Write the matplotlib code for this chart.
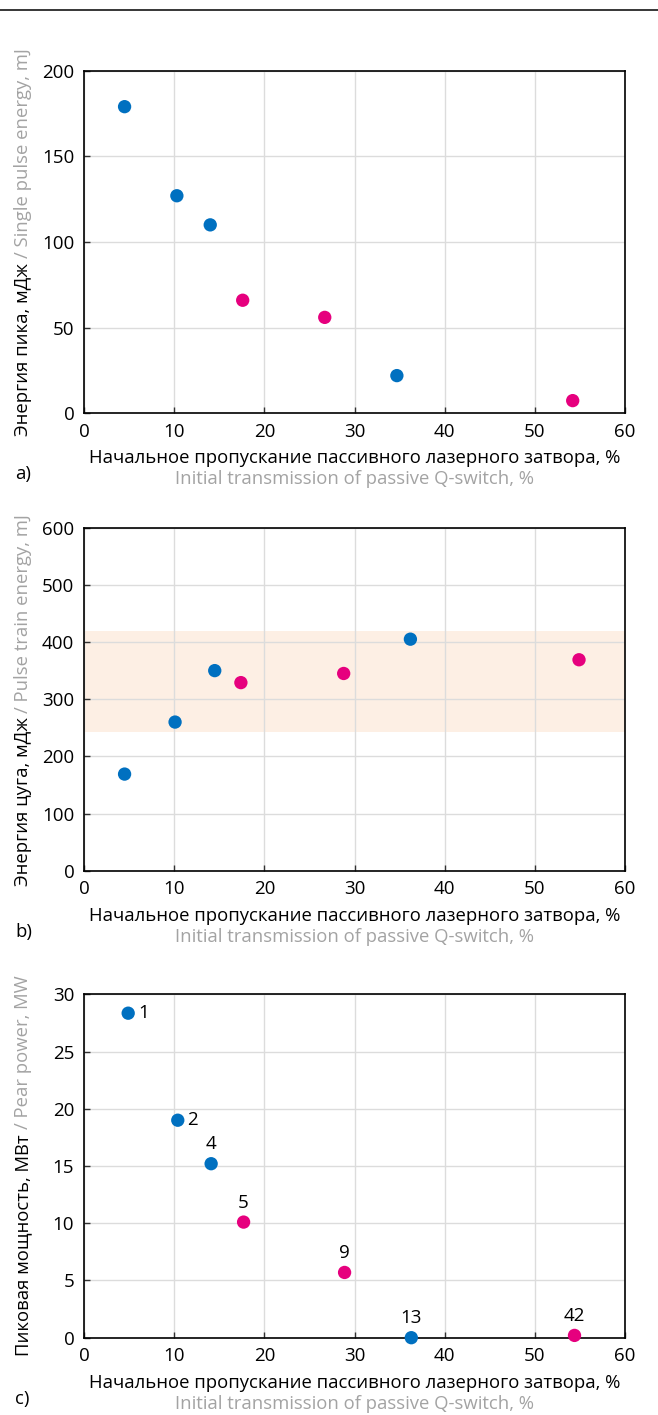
import matplotlib
matplotlib.use("Agg")
import matplotlib.pyplot as plt
from matplotlib.transforms import IdentityTransform

plt.rcParams['font.family'] = ['Open Sans', 'DejaVu Sans']

# panel a) single pulse energy
a_blue_x = [4.5, 10.3, 14.0, 34.7]
a_blue_y = [179, 127, 110, 22]
a_pink_x = [17.6, 26.7, 54.2]
a_pink_y = [66, 56, 7.4]

# panel b) pulse train energy
b_blue_x = [4.5, 10.1, 14.5, 36.2]
b_blue_y = [169, 260, 350, 405]
b_pink_x = [17.4, 28.8, 54.9]
b_pink_y = [329, 345, 369]
b_band = [243, 419]

# panel c) peak power, numbers = pulses in train
c_blue_x = [4.9, 10.4, 14.1, 36.3]
c_blue_y = [28.35, 19.0, 15.2, 0.0]
c_blue_lbl = ['1', '2', '4', '13']
c_pink_x = [17.7, 28.9, 54.4]
c_pink_y = [10.1, 5.7, 0.2]
c_pink_lbl = ['5', '9', '42']
side_labels = ['1', '2']   # these sit to the right of the point, others above

x_title = "Начальное пропускание пассивного лазерного затвора, %"
x_title_en = "Initial transmission of passive Q-switch, %"

BLUE = "#0070c0"
PINK = "#e6007e"
GREY = "#a3a3a3"
BAND = "#fdefe4"
FS = 13.3

W, H = 658, 1415
fig = plt.figure(figsize=(W / 100, H / 100), dpi=100)

# thin rule at the very top
fig.add_artist(plt.Line2D([0, 1], [1 - 9.5 / H, 1 - 9.5 / H], color="black", lw=1.1))


def make_axes(top, bottom, ymax, ystep):
    ax = fig.add_axes([84 / W, 1 - bottom / H, 541 / W, (bottom - top) / H])
    ax.set_xlim(0, 60)
    ax.set_ylim(0, ymax)
    ax.set_xticks(range(0, 61, 10))
    ax.set_yticks(range(0, ymax + 1, ystep))
    ax.grid(True, color="#dcdcdc", lw=1)
    ax.set_axisbelow(True)
    ax.tick_params(direction="in", length=4, width=1, color="#333333",
                   labelsize=13.5, pad=7)
    for s in ax.spines.values():
        s.set_linewidth(1.2)
    return ax


def dots(ax, x, y, color):
    ax.scatter(x, y, s=92, color=color, edgecolors="none", zorder=5, clip_on=False)


def bottom_titles(bottom, letter):
    fig.text(354.5 / W, 1 - (bottom + 45) / H, x_title, ha="center", va="center",
             fontsize=FS, color="black")
    fig.text(354.5 / W, 1 - (bottom + 66) / H, x_title_en, ha="center", va="center",
             fontsize=FS, color=GREY)
    fig.text(15 / W, 1 - (bottom + 61) / H, letter, ha="left", va="center",
             fontsize=FS, color="black")


ylabels = []


def two_tone_ylabel(yc, black, grey):
    ylabels.append((yc, black, grey))


# a)
ax1 = make_axes(70.7, 413.3, 200, 50)
dots(ax1, a_blue_x, a_blue_y, BLUE)
dots(ax1, a_pink_x, a_pink_y, PINK)
bottom_titles(413.3, "a)")
two_tone_ylabel(242, "Энергия пика, мДж", "/ Single pulse energy, mJ")

# b)
ax2 = make_axes(527.7, 870.7, 600, 100)
ax2.axhspan(b_band[0], b_band[1], color=BAND, lw=0, zorder=0)
dots(ax2, b_blue_x, b_blue_y, BLUE)
dots(ax2, b_pink_x, b_pink_y, PINK)
bottom_titles(870.7, "b)")
two_tone_ylabel(700, "Энергия цуга, мДж", "/ Pulse train energy, mJ")

# c)
ax3 = make_axes(994.3, 1337.7, 30, 5)
dots(ax3, c_blue_x, c_blue_y, BLUE)
dots(ax3, c_pink_x, c_pink_y, PINK)
for xs, ys, lbls in [(c_blue_x, c_blue_y, c_blue_lbl), (c_pink_x, c_pink_y, c_pink_lbl)]:
    for x, y, lb in zip(xs, ys, lbls):
        if lb in side_labels:
            ax3.annotate(lb, (x, y), xytext=(7, 0), textcoords="offset points",
                         ha="left", va="center", fontsize=13.5)
        else:
            ax3.annotate(lb, (x, y), xytext=(0, 14), textcoords="offset points",
                         ha="center", va="center", fontsize=13.5)
bottom_titles(1337.7, "c)")
two_tone_ylabel(1165.5, "Пиковая мощность, МВт", "/ Pear power, MW")

# rotated y titles: russian part black, english part grey, laid end to end
rend = fig.canvas.get_renderer()


def text_len(s):
    t = fig.text(0, 0, s, fontsize=FS)
    w = t.get_window_extent(rend).width
    t.remove()
    return w


gap = text_len("a a") - text_len("aa")
xc = 23
for yc, black, grey in ylabels:
    lb, lg = text_len(black), text_len(grey)
    total = lb + gap + lg
    y0 = (H - yc) - total / 2
    fig.text(xc, y0, black, rotation=90, ha="center", va="bottom",
             fontsize=FS, color="black", transform=IdentityTransform())
    fig.text(xc, y0 + lb + gap, grey, rotation=90, ha="center", va="bottom",
             fontsize=FS, color=GREY, transform=IdentityTransform())

fig.savefig("out.png", dpi=100)
